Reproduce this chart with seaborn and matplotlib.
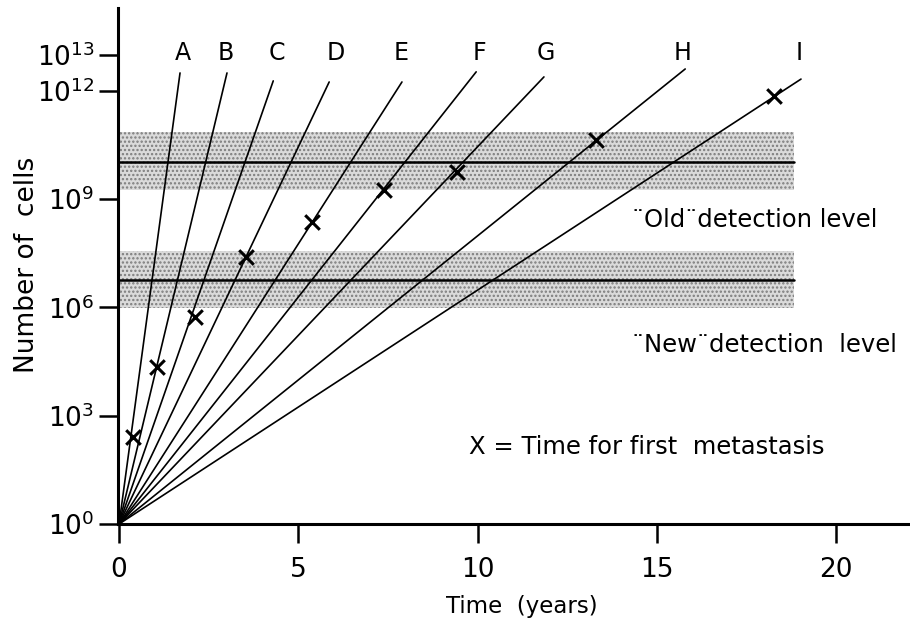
import numpy as np
import pandas as pd
import matplotlib
matplotlib.use("Agg")
import matplotlib.pyplot as plt
import seaborn as sns
from matplotlib.ticker import NullLocator, FixedLocator

# ---- data ----
line_names = ["A", "B", "C", "D", "E", "F", "G", "H", "I"]
# end point of each growth line: time (years) and log10(cells)
line_end_time = [1.70, 3.01, 4.30, 5.86, 7.89, 9.96, 11.85, 15.79, 19.02]
line_end_log = [12.50, 12.50, 12.28, 12.25, 12.25, 12.53, 12.39, 12.61, 12.33]
# first metastasis marks
meta_time = [0.39, 1.06, 2.12, 3.54, 5.38, 7.39, 9.43, 13.31, 18.27]
meta_log = [2.41, 4.35, 5.74, 7.40, 8.37, 9.26, 9.76, 10.64, 11.86]
# line label positions
label_time = [1.79, 2.98, 4.41, 6.05, 7.87, 10.04, 11.91, 15.73, 18.97]
label_log = 13.05
# detection levels (log10 cells): lower edge, level, upper edge
old_level = [9.26, 10.02, 10.86]
new_level = [5.99, 6.76, 7.57]
band_end_time = 18.83
x_ticks = [0, 5, 10, 15, 20]
y_tick_exps = [0, 3, 6, 9, 12, 13]

rows = []
for n, t, l in zip(line_names, line_end_time, line_end_log):
    rows.append({"line": n, "time": 0.0, "cells": 1.0})
    rows.append({"line": n, "time": t, "cells": 10 ** l})
df_lines = pd.DataFrame(rows)
df_meta = pd.DataFrame({"time": meta_time, "cells": [10 ** v for v in meta_log]})

sns.set_style("ticks")
plt.rcParams["font.family"] = ["DejaVu Sans"]
plt.rcParams["mathtext.fontset"] = "dejavusans"
plt.rcParams["text.color"] = "black"
plt.rcParams["axes.labelcolor"] = "black"
plt.rcParams["xtick.color"] = "black"
plt.rcParams["ytick.color"] = "black"
plt.rcParams["hatch.linewidth"] = 1.1

fig = plt.figure(figsize=(9.10, 6.27), dpi=100)
ax = fig.add_axes([118 / 910, 1 - 524 / 627, 1 - 118 / 910, (524 - 8) / 627])
ax.set_yscale("log")

# detection bands
for lo, mid, hi in (old_level, new_level):
    ax.fill_between([0, band_end_time], 10 ** lo, 10 ** hi, facecolor="#dadada",
                    edgecolor="#7c7c7c", hatch="....", linewidth=0, zorder=1)
    ax.plot([0, band_end_time], [10 ** mid, 10 ** mid], color="black", lw=1.8, zorder=3)

sns.lineplot(data=df_lines, x="time", y="cells", units="line", estimator=None,
             color="black", lw=1.2, ax=ax, zorder=4, sort=False)
sns.scatterplot(data=df_meta, x="time", y="cells", marker="x", s=110,
                linewidths=2.2, color="black", ax=ax, zorder=5)

for n, t in zip(line_names, label_time):
    ax.text(t, 10 ** label_log, n, ha="center", va="center", fontsize=17)

ax.text(14.31, 10 ** 8.43, "\u00a8Old\u00a8detection level", ha="left", va="center", fontsize=17.5)
ax.text(14.31, 10 ** 4.96, "\u00a8New\u00a8detection  level", ha="left", va="center", fontsize=17.5)
ax.text(9.76, 10 ** 2.13, "X = Time for first  metastasis", ha="left", va="center", fontsize=17.5)

ax.set_xlim(-0.03, 22.06)
ax.set_ylim(1, 10 ** 14.30)
ax.xaxis.set_major_locator(FixedLocator(x_ticks))
ax.set_xticklabels([str(v) for v in x_ticks])
ax.yaxis.set_major_locator(FixedLocator([10.0 ** e for e in y_tick_exps]))
ax.yaxis.set_minor_locator(NullLocator())
ax.set_yticklabels([r"$\mathregular{10^{%d}}$" % e for e in y_tick_exps])
ax.tick_params(axis="both", which="major", length=14, width=1.8, labelsize=19,
               direction="out", color="black", labelcolor="black")
ax.tick_params(axis="x", pad=10)
ax.tick_params(axis="y", pad=3)

sns.despine(ax=ax, top=True, right=True)
for s in ("left", "bottom"):
    ax.spines[s].set_linewidth(2.2)
    ax.spines[s].set_color("black")

ax.set_xlabel("")
ax.set_ylabel("")
fig.text(27 / 910, 1 - 265 / 627, "Number of  cells", rotation=90, ha="center",
         va="center", fontsize=19)
fig.text(522 / 910, 1 - 607 / 627, "Time  (years)", ha="center", va="center", fontsize=16.5)

fig.savefig("out.png", dpi=100)
